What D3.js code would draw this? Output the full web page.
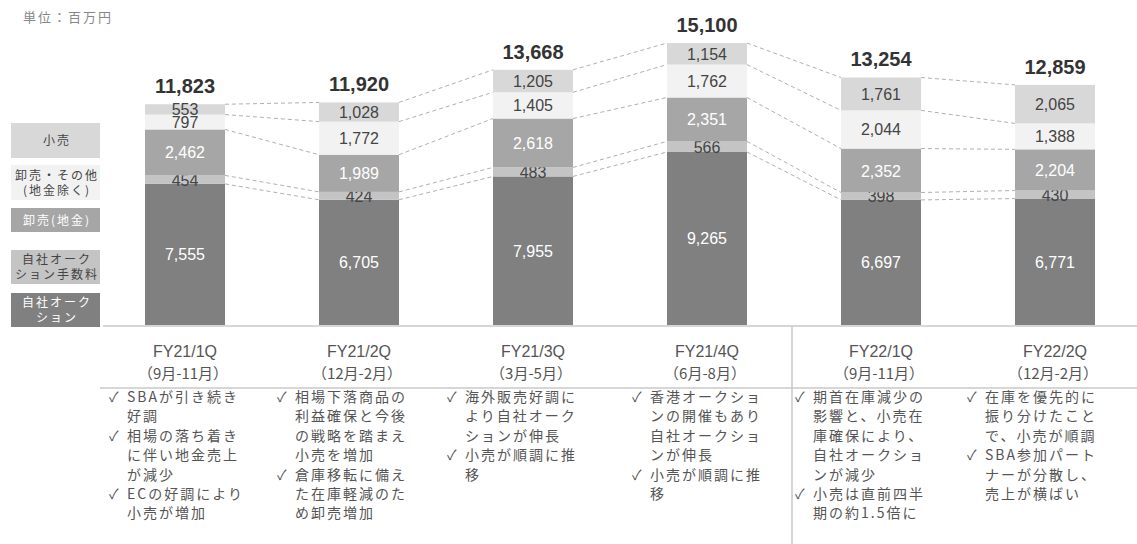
<!DOCTYPE html>
<html>
<head>
<meta charset="utf-8">
<script src="https://cdn.jsdelivr.net/npm/d3@7"></script>
<style>
  body { margin: 0; background: #fff; }
  text { font-family: "Liberation Sans", "Noto Sans CJK JP", sans-serif; }
  .jp { font-family: "Noto Sans CJK JP", sans-serif; }
  .total { font-size: 20px; font-weight: bold; fill: #333; }
  .seg { font-size: 16px; }
  .cat { font-size: 16px; fill: #555; }
  .per { font-size: 15px; fill: #555; }
  .note { font-size: 14px; fill: #555; letter-spacing: 2px; }
  .legend { font-size: 12px; letter-spacing: 2px; }
  .unit { font-size: 13px; fill: #888; letter-spacing: 2px; }
  .conn { stroke: #b0b0b0; stroke-width: 1; stroke-dasharray: 4,3; fill: none; }
</style>
</head>
<body>
<svg id="chart" width="1137" height="544"></svg>
<script>
const quarters = ["FY21/1Q", "FY21/2Q", "FY21/3Q", "FY21/4Q", "FY22/1Q", "FY22/2Q"];
const periods = ["（9月-11月）", "（12月-2月）", "（3月-5月）", "（6月-8月）", "（9月-11月）", "（12月-2月）"];
const seriesNames = ["自社オークション", "自社オークション手数料", "卸売(地金)", "卸売・その他(地金除く)", "小売"];
const legendLines = [["自社オーク", "ション"], ["自社オーク", "ション手数料"], ["卸売(地金)"], ["卸売・その他", "(地金除く)"], ["小売"]];
const auction = [7555, 6705, 7955, 9265, 6697, 6771];
const auctionFee = [454, 424, 483, 566, 398, 430];
const wholesaleBullion = [2462, 1989, 2618, 2351, 2352, 2204];
const wholesaleOther = [797, 1772, 1405, 1762, 2044, 1388];
const retail = [553, 1028, 1205, 1154, 1761, 2065];
const totals = [11823, 11920, 13668, 15100, 13254, 12859];
const notes = [
  [["SBAが引き続き", "好調"], ["相場の落ち着き", "に伴い地金売上", "が減少"], ["ECの好調により", "小売が増加"]],
  [["相場下落商品の", "利益確保と今後", "の戦略を踏まえ", "小売を増加"], ["倉庫移転に備え", "た在庫軽減のた", "め卸売増加"]],
  [["海外販売好調に", "より自社オーク", "ションが伸長"], ["小売が順調に推", "移"]],
  [["香港オークショ", "ンの開催もあり", "自社オークショ", "ンが伸長"], ["小売が順調に推", "移"]],
  [["期首在庫減少の", "影響と、小売在", "庫確保により、", "自社オークショ", "ンが減少"], ["小売は直前四半", "期の約1.5倍に"]],
  [["在庫を優先的に", "振り分けたこと", "で、小売が順調"], ["SBA参加パート", "ナーが分散し、", "売上が横ばい"]]
];

const colors = ["#808080", "#c4c4c4", "#a6a6a6", "#f2f2f2", "#d8d8d8"];
const textColors = ["#fff", "#444", "#fff", "#444", "#444"];

const svg = d3.select("#chart");
const fmt = d3.format(",");

const x = d3.scalePoint().domain(quarters).range([185, 1055]);
const y = d3.scaleLinear().domain([0, 15100]).range([325, 43]);
const barW = 80;

const table = quarters.map((q, i) => ({
  q: q, 0: auction[i], 1: auctionFee[i], 2: wholesaleBullion[i], 3: wholesaleOther[i], 4: retail[i]
}));
const stacked = d3.stack().keys([0, 1, 2, 3, 4])(table);

// unit label
svg.append("text").attr("class", "unit jp").attr("x", 23).attr("y", 22).text("単位：百万円");

// connectors between bars
[0, 1, 2, 3, 4].forEach(k => {
  for (let i = 0; i < quarters.length - 1; i++) {
    svg.append("line").attr("class", "conn")
      .attr("x1", x(quarters[i]) + barW / 2).attr("x2", x(quarters[i + 1]) - barW / 2)
      .attr("y1", y(stacked[k][i][1])).attr("y2", y(stacked[k][i + 1][1]));
  }
});

// bars
stacked.forEach((layer, k) => {
  const g = svg.append("g");
  g.selectAll("rect").data(layer).enter().append("rect")
    .attr("x", d => x(d.data.q) - barW / 2)
    .attr("y", d => y(d[1]))
    .attr("width", barW)
    .attr("height", d => y(d[0]) - y(d[1]))
    .attr("fill", colors[k]);
  g.selectAll("text").data(layer).enter().append("text")
    .attr("class", "seg")
    .attr("x", d => x(d.data.q))
    .attr("y", d => (y(d[0]) + y(d[1])) / 2 + 6)
    .attr("text-anchor", "middle")
    .attr("fill", textColors[k])
    .text(d => fmt(d.data[k]));
});

// totals
svg.selectAll(".total").data(quarters).enter().append("text")
  .attr("class", "total")
  .attr("x", d => x(d)).attr("y", (d, i) => y(totals[i]) - 11)
  .attr("text-anchor", "middle")
  .text((d, i) => fmt(totals[i]));

// axis lines
svg.append("line").attr("x1", 103).attr("x2", 1137).attr("y1", 326).attr("y2", 326)
  .attr("stroke", "#c8c8c8").attr("stroke-width", 1.5);
svg.append("line").attr("x1", 100).attr("x2", 1137).attr("y1", 388).attr("y2", 388)
  .attr("stroke", "#c8c8c8").attr("stroke-width", 1.5);
svg.append("line").attr("x1", 792).attr("x2", 792).attr("y1", 326).attr("y2", 544)
  .attr("stroke", "#c8c8c8").attr("stroke-width", 1.5);

// category labels
quarters.forEach((q, i) => {
  svg.append("text").attr("class", "cat").attr("x", x(q)).attr("y", 357)
    .attr("text-anchor", "middle").text(q);
  svg.append("text").attr("class", "per jp").attr("x", x(q) - 2).attr("y", 379)
    .attr("text-anchor", "middle").text(periods[i]);
});

// legend
const legendY = [293, 250, 208, 165, 123];
const legendH = [34, 34, 24, 35, 35];
seriesNames.forEach((s, k) => {
  svg.append("rect").attr("x", 11).attr("y", legendY[k]).attr("width", 89).attr("height", legendH[k])
    .attr("fill", colors[k]);
  const lines = legendLines[k];
  const cy = legendY[k] + legendH[k] / 2;
  lines.forEach((l, j) => {
    svg.append("text").attr("class", "legend jp")
      .attr("x", 57).attr("y", cy + 4.5 + (j - (lines.length - 1) / 2) * 15)
      .attr("text-anchor", "middle").attr("fill", textColors[k]).text(l);
  });
});

// notes
const noteX = [127, 295, 465, 650, 813, 985];
notes.forEach((col, i) => {
  let row = 0;
  col.forEach(item => {
    item.forEach((line, j) => {
      const yy = 402 + row * 19.4;
      if (j === 0) {
        svg.append("text").attr("class", "note jp").attr("x", noteX[i] - 18).attr("y", yy).text("✓");
      }
      svg.append("text").attr("class", "note jp").attr("x", noteX[i]).attr("y", yy).text(line);
      row++;
    });
  });
});
</script>
</body>
</html>
